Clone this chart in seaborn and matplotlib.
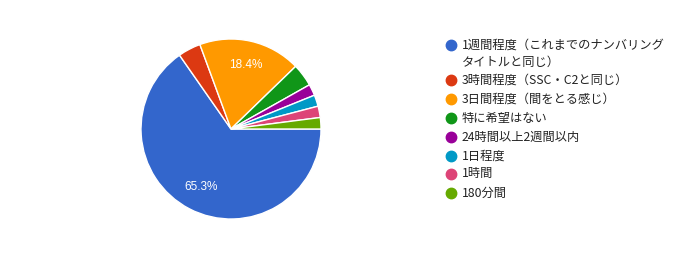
import matplotlib
matplotlib.use("Agg")
import matplotlib.pyplot as plt
import seaborn as sns
from matplotlib.lines import Line2D

categories = [
    "1週間程度（これまでのナンバリング\nタイトルと同じ）",
    "3時間程度（SSC・C2と同じ）",
    "3日間程度（間をとる感じ）",
    "特に希望はない",
    "24時間以上2週間以内",
    "1日程度",
    "1時間",
    "180分間",
]
counts = [32, 2, 9, 2, 1, 1, 1, 1]
colors = ["#3366cc", "#dc3912", "#ff9900", "#109618", "#990099", "#0099c6", "#dd4477", "#66aa00"]

sns.set_theme(style="white")
plt.rcParams['font.family'] = ['Noto Sans CJK JP', 'DejaVu Sans']

palette = sns.color_palette(colors)

fig = plt.figure(figsize=(6.76, 2.65), dpi=100)
fig.patch.set_facecolor("white")
W, H = 676, 265

ax = fig.add_axes([141 / W, (H - 219) / H, 180 / W, 180 / H])
total = sum(counts)

def fmt(p):
    return f"{p:.1f}%" if p >= 10 else ""

wedges, texts, autotexts = ax.pie(
    counts, colors=palette, startangle=0, counterclock=False,
    autopct=fmt, pctdistance=0.73,
    wedgeprops=dict(edgecolor="white", linewidth=1),
    textprops=dict(color="white", fontsize=8.5, family=['Liberation Sans', 'DejaVu Sans']),
)
ax.set_aspect("equal")
ax.set_xlim(-1, 1)
ax.set_ylim(-1, 1)
ax.axis("off")

# legend (manual layout)
ys = [45, 80, 99, 118, 137, 156, 174, 193]
for y, lab, c in zip(ys, categories, palette):
    fig.add_artist(Line2D([451 / W], [1 - y / H], marker="o", markersize=7.5,
                          color=c, transform=fig.transFigure, linestyle="none"))
    fig.text(462 / W, 1 - y / H, lab, fontsize=8.8, color="#222222",
             va="top" if "\n" in lab else "center", ha="left",
             linespacing=1.45,
             transform=fig.transFigure) if "\n" not in lab else None
    if "\n" in lab:
        l1, l2 = lab.split("\n")
        fig.text(462 / W, 1 - y / H, l1, fontsize=8.8, color="#222222",
                 va="center", ha="left")
        fig.text(462 / W, 1 - (y + 17) / H, l2, fontsize=8.8, color="#222222",
                 va="center", ha="left")

fig.savefig("out.png", dpi=100, facecolor="white")
